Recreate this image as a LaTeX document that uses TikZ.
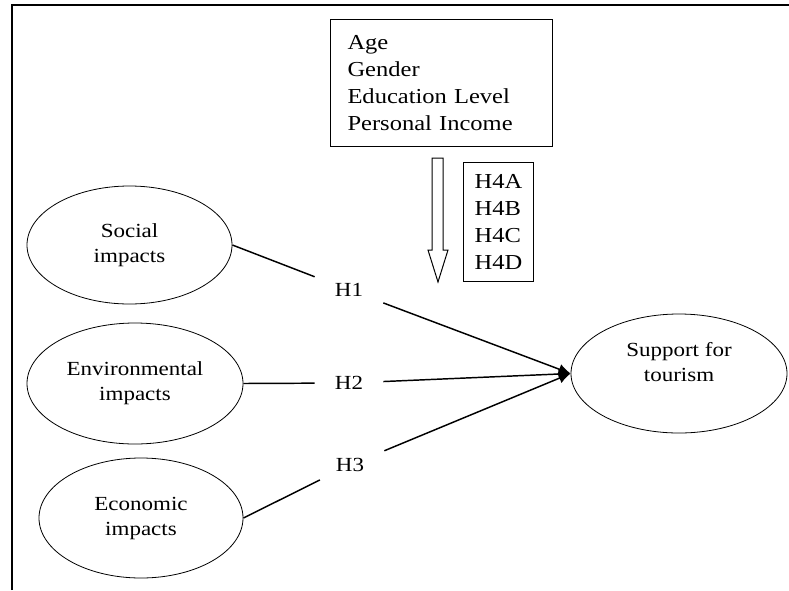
\documentclass[tikz,border=0pt]{standalone}
\usepackage{fontspec}
\setmainfont{Liberation Serif}[FakeStretch=1.15]
\usepackage{tikz}
\usetikzlibrary{shapes.geometric,arrows.meta}

\begin{document}
\begin{tikzpicture}[>={Latex[length=9pt,width=8pt]}, x=0.75pt, y=-0.75pt,
  font=\fontsize{15}{20.25}\selectfont,
  factor/.style={draw, ellipse, line width=0.6pt, inner sep=0pt},
  factortext/.style={align=center, font=\fontsize{15}{18.75}\selectfont},
  listbox/.style={draw, rectangle, line width=0.75pt, anchor=north west, align=left, font=\fontsize{16}{20.25}\selectfont},
  hyp/.style={inner xsep=15pt, inner ysep=6pt},
  link/.style={->, line width=1.1pt}]
\useasboundingbox (0,0) rectangle (789,590);

% moldura
\draw[line width=1pt] (12,590) -- (12,5) -- (789,5);

\node[listbox, minimum height=95.25pt, inner xsep=12.75pt, text width=141pt] (demo) at (330,19) {Age\\Gender\\Education Level\\Personal Income};
\node[listbox, minimum width=52.5pt, minimum height=89.25pt] (mod) at (463,162) {H4A\\H4B\\H4C\\H4D};

% seta vazada
\draw[line width=0.75pt] (432,158) -- (443,158) -- (443,250) -- (448,250) -- (438,282) -- (428,250) -- (432,250) -- cycle;

\node[factor, factortext, minimum width=153.75pt, minimum height=88.5pt] (soc) at (129.5,245) {Social\\impacts};
\node[factor, factortext, minimum width=162pt, minimum height=90.75pt] (env) at (135,383.5) {Environmental\\impacts};
\node[factor, factortext, minimum width=153pt, minimum height=90pt] (eco) at (141,518) {Economic\\impacts};
\node[factor, minimum width=162pt, minimum height=89.25pt] (sup) at (679,373.5) {};
\node[factortext] (suptext) at (679,362) {Support for\\tourism};

\node[hyp] (h1) at (349,290) {H1};
\node[hyp] (h2) at (349,383) {H2};
\node[hyp] (h3) at (350,465) {H3};

\draw[link] (soc.east) -- (h1) -- (sup.west);
\draw[link] (env.east) -- (h2) -- (sup.west);
\draw[link] (eco.east) -- (h3) -- (sup.west);
\end{tikzpicture}
\end{document}
